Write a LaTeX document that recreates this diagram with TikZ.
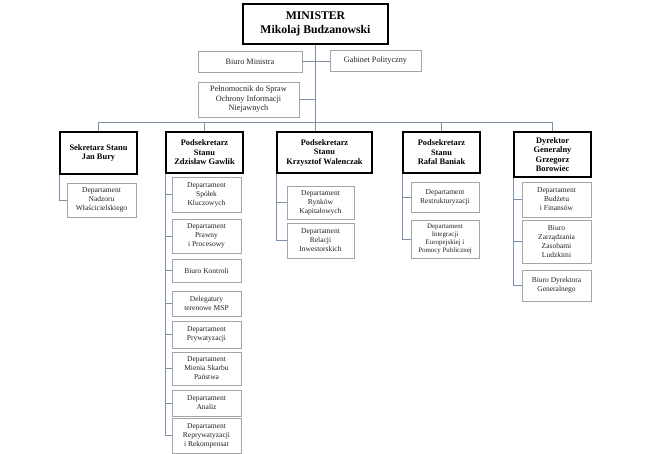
\documentclass[tikz,border=0pt]{standalone}
\usepackage{fontspec}
\setmainfont{Liberation Serif}
\definecolor{connc}{RGB}{125,143,172}
\definecolor{bgrey}{RGB}{165,165,165}
\definecolor{txt}{RGB}{35,35,35}
\newcommand{\boxat}[7]{\node[#2, minimum width={(#5-#3)*1pt}, minimum height={(#6-#4)*1pt}] (#1) at ({(#3+#5)/2*1pt},{-(#4+#6)/2*1pt}) {#7};}
\begin{document}
\begin{tikzpicture}[
  minbox/.style={draw=black, line width=2pt, inner sep=0pt, align=center, font=\fontsize{11.75}{14}\selectfont\bfseries},
  headbox/.style={draw=black, line width=1.8pt, inner sep=0pt, align=center, font=\fontsize{8.4}{9.5}\selectfont\bfseries},
  offbox/.style={draw=bgrey, line width=0.6pt, inner sep=0pt, align=center, text=txt, font=\fontsize{8.2}{9.5}\selectfont},
  deptbox/.style={draw=bgrey, line width=0.6pt, inner sep=0pt, align=center, text=txt, font=\fontsize{7.5}{9}\selectfont},
  smalldept/.style={deptbox, font=\fontsize{6.9}{7.9}\selectfont},
  conn/.style={draw=connc, line width=0.8pt}
]
\fill[white] (0,0) rectangle (650pt,-454pt);
\useasboundingbox (0,0) rectangle (650pt,-454pt);

% top
\boxat{min}{minbox}{243}{4}{388}{44}{MINISTER\\Mikolaj Budzanowski}
\boxat{bm}{offbox}{198}{51}{302}{72}{Biuro Ministra}
\boxat{gp}{offbox}{330}{50}{421}{71}{Gabinet Polityczny}
\boxat{pel}{offbox}{198}{82}{299}{117}{Pełnomocnik do Spraw\\Ochrony Informacji\\Niejawnych}

% level 2
\boxat{bury}{headbox}{60}{132}{137}{174}{Sekretarz Stanu\\Jan Bury}
\boxat{gaw}{headbox}{166}{132}{243}{173}{Podsekretarz\\Stanu\\Zdzisław Gawlik}
\boxat{wal}{headbox}{277}{132}{372}{173}{Podsekretarz\\Stanu\\Krzysztof Walenczak}
\boxat{ban}{headbox}{403}{132}{480}{173}{Podsekretarz\\Stanu\\Rafal Baniak}
\boxat{bor}{headbox}{514}{132}{591}{177}{\fontsize{8.4}{8.6}\selectfont Dyrektor\\Generalny\\Grzegorz\\Borowiec}

% level 3
\boxat{b1}{deptbox}{67}{183}{136}{217}{Departament\\Nadzoru\\Właścicielskiego}

\boxat{g1}{deptbox}{172}{177}{241}{212}{Departament\\Spółek\\Kluczowych}
\boxat{g2}{deptbox}{172}{219}{241}{253}{Departament\\Prawny\\i Procesowy}
\boxat{g3}{deptbox}{172}{259}{241}{282}{Biuro Kontroli}
\boxat{g4}{deptbox}{172}{291}{241}{316}{Delegatury\\terenowe MSP}
\boxat{g5}{deptbox}{172}{321}{241}{348}{Departament\\Prywatyzacji}
\boxat{g6}{deptbox}{172}{352}{241}{385}{Departament\\Mienia Skarbu\\Państwa}
\boxat{g7}{deptbox}{172}{390}{241}{416}{Departament\\Analiz}
\boxat{g8}{deptbox}{172}{418}{241}{453}{Departament\\Reprywatyzacji\\i Rekompensat}

\boxat{w1}{deptbox}{287}{186}{354}{219}{Departament\\Rynków\\Kapitałowych}
\boxat{w2}{deptbox}{287}{223}{354}{258}{Departament\\Relacji\\Inwestorskich}

\boxat{n1}{deptbox}{411}{182}{479}{212}{Departament\\Restrukturyzacji}
\boxat{n2}{smalldept}{411}{220}{479}{258}{Departament\\Integracji\\Europejskiej i\\Pomocy Publicznej}

\boxat{r1}{deptbox}{522}{182}{591}{217}{Departament\\Budżetu\\i Finansów}
\boxat{r2}{deptbox}{522}{220}{591}{263}{Biuro\\Zarządzania\\Zasobami\\Ludzkimi}
\boxat{r3}{deptbox}{522}{270}{591}{301}{Biuro Dyrektora\\Generalnego}

% connectors
\coordinate (busy) at (0,-122pt);
\draw[conn] (min.south) -- (min.south |- wal.north);
\draw[conn] (bm.east) -- (bm.east -| gp.west);
\draw[conn] (pel.east) -- (pel.east -| min.south);
\draw[conn] (bury.north) -- (bury.north |- busy) -- (bor.north |- busy) -- (bor.north);
\draw[conn] (gaw.north) -- (gaw.north |- busy);
\draw[conn] (ban.north) -- (ban.north |- busy);

\draw[conn] (bury.south west) |- (b1.west);
\foreach \c in {g1,g2,g3,g4,g5,g6,g7,g8} \draw[conn] (gaw.south west) |- (\c.west);
\foreach \c in {w1,w2} \draw[conn] (wal.south west) |- (\c.west);
\foreach \c in {n1,n2} \draw[conn] (ban.south west) |- (\c.west);
\foreach \c in {r1,r2,r3} \draw[conn] (bor.south west) |- (\c.west);
\end{tikzpicture}
\end{document}
